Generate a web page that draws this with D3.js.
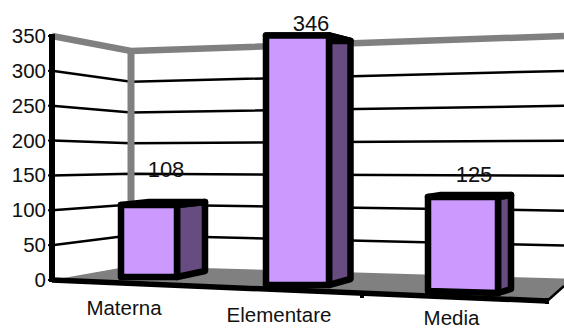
<!DOCTYPE html>
<html>
<head>
<meta charset="utf-8">
<style>
  html, body { margin: 0; padding: 0; background: #fff; }
  svg { display: block; }
  text { font-family: "Liberation Sans", Arial, sans-serif; fill: #111; }
</style>
<script src="https://cdn.jsdelivr.net/npm/d3@7/dist/d3.min.js"></script>
</head>
<body>
<svg id="chart" width="564" height="329"></svg>
<script>
// Chart content
const categories = ["Materna", "Elementare", "Media"];
const students = [108, 346, 125];
const yTicks = [0, 50, 100, 150, 200, 250, 300, 350];

// Colours
const wallGray = "#808080";
const ink = "#000";
const frontFill = "#cc99ff";
const sideFill = "#664c80";

const svg = d3.select("#chart");
const domainY = [0, 350];

// One value scale per vertical edge of the 3D box, since perspective changes the spacing
const yFrontLeft = d3.scaleLinear().domain(domainY).range([280, 36]);
const yBackLeft = d3.scaleLinear().domain(domainY).range([266, 51]);
const yBackRight = d3.scaleLinear().domain(domainY).range([280.5, 36]);

const xFrontLeft = 52, xBackLeft = 131, xBackRight = 564;

// Per-bar projection, indexed by category
const barScale = (range) => d3.scaleOrdinal(categories, range);
const barLeft = barScale([121, 266, 428]);
const barWidth = barScale([56, 63, 70]);
const barDepth = barScale([28, 21.5, 13]);
const barBase = barScale([277, 285, 291]);
const baseDrop = barScale([0, 0, 2]);
const baseRise = barScale([6, 6, 4]);
const topRise = barScale([3, -5.5, 2]);
const heightFull = barScale([233.5, 252.5, 263]);
const labelX = barScale([166, 311, 474]);
const labelGap = barScale([28, 4.5, 15]);
const catX = barScale([124, 279, 451.5]);
const catY = barScale([315, 322, 324.5]);

const barHeight = (c, v) => d3.scaleLinear().domain(domainY).range([0, heightFull(c)])(v);

const line = d3.line();

// Floor
svg.append("polygon")
  .attr("points", [
    [xFrontLeft, yFrontLeft(0)], [xBackLeft, yBackLeft(0)],
    [xBackRight, yBackRight(0) - 2], [xBackRight, 287], [547, 302]
  ].join(" "))
  .attr("fill", wallGray);

// Gridlines across both walls
svg.append("g").selectAll("path")
  .data(yTicks.filter(t => t > 0 && t < 350))
  .join("path")
  .attr("d", t => line([[xFrontLeft, yFrontLeft(t)], [xBackLeft, yBackLeft(t)], [xBackRight, yBackRight(t)]]))
  .attr("fill", "none")
  .attr("stroke", ink)
  .attr("stroke-width", 2.5);

// Back corner and top edge of the walls
svg.append("path")
  .attr("d", line([[xBackLeft, yBackLeft(0)], [xBackLeft, yBackLeft(350)]]))
  .attr("stroke", wallGray).attr("stroke-width", 7);
svg.append("path")
  .attr("d", line([[xFrontLeft, yFrontLeft(350)], [xBackLeft, yBackLeft(350)], [xBackRight, yBackRight(350)]]))
  .attr("fill", "none").attr("stroke", wallGray).attr("stroke-width", 6.5)
  .attr("stroke-linejoin", "miter");

// Front edge of the floor, its right end, and the small tick marks on it
svg.append("path")
  .attr("d", line([[xFrontLeft, yFrontLeft(0)], [547, 301]]))
  .attr("stroke", ink).attr("stroke-width", 5.5);
svg.append("path")
  .attr("d", line([[546, 302], [xBackRight, 286]]))
  .attr("stroke", ink).attr("stroke-width", 2.5);
svg.append("path")
  .attr("d", line([[362, 292], [362, 298]]))
  .attr("stroke", ink).attr("stroke-width", 4);
svg.append("path")
  .attr("d", line([[547, 298], [547, 304]]))
  .attr("stroke", ink).attr("stroke-width", 4);

// Left axis and its ticks
svg.append("path")
  .attr("d", line([[xFrontLeft, yFrontLeft(350) - 2], [xFrontLeft, yFrontLeft(0) + 2]]))
  .attr("stroke", ink).attr("stroke-width", 6);
svg.append("g").selectAll("path")
  .data(yTicks)
  .join("path")
  .attr("d", t => line([[48, yFrontLeft(t)], [xFrontLeft, yFrontLeft(t)]]))
  .attr("stroke", ink).attr("stroke-width", 2);

svg.append("g").selectAll("text")
  .data(yTicks)
  .join("text")
  .attr("x", 46)
  .attr("y", t => yFrontLeft(t) + 7)
  .attr("text-anchor", "end")
  .attr("font-size", 20.5)
  .text(t => t);

// Bars: side face, top face, front face
const bars = svg.append("g").selectAll("g")
  .data(categories.map((c, i) => ({ c, v: students[i] })))
  .join("g")
  .attr("stroke", ink)
  .attr("stroke-width", 6.5)
  .attr("stroke-linejoin", "round");

const corners = d => {
  const x0 = barLeft(d.c), x1 = x0 + barWidth(d.c), x2 = x1 + barDepth(d.c);
  const yb = barBase(d.c), yt = yb - barHeight(d.c, d.v);
  const yb1 = yb + baseDrop(d.c);
  return {
    x0, x1, x2, yt, yb, yb1,
    backBase: yb1 - baseRise(d.c),
    backTop: yt - topRise(d.c)
  };
};

bars.append("path")
  .attr("fill", sideFill)
  .attr("d", d => { const k = corners(d); return line([[k.x1, k.yt], [k.x2, k.backTop], [k.x2, k.backBase], [k.x1, k.yb1]]) + "Z"; });
bars.append("path")
  .attr("fill", ink)
  .attr("d", d => { const k = corners(d); return line([[k.x0, k.yt], [k.x1, k.yt], [k.x2, k.backTop], [k.x2 - barWidth(d.c), k.backTop]]) + "Z"; });
bars.append("path")
  .attr("fill", frontFill)
  .attr("d", d => { const k = corners(d); return line([[k.x0, k.yt], [k.x1, k.yt], [k.x1, k.yb1], [k.x0, k.yb]]) + "Z"; });

// Value labels above each bar
svg.append("g").selectAll("text")
  .data(categories.map((c, i) => ({ c, v: students[i] })))
  .join("text")
  .attr("x", d => labelX(d.c))
  .attr("y", d => corners(d).yt - labelGap(d.c))
  .attr("text-anchor", "middle")
  .attr("font-size", 22)
  .text(d => d.v);

// Category labels
svg.append("g").selectAll("text")
  .data(categories)
  .join("text")
  .attr("x", c => catX(c))
  .attr("y", c => catY(c))
  .attr("text-anchor", "middle")
  .attr("font-size", 20.5)
  .text(c => c);
</script>
</body>
</html>
